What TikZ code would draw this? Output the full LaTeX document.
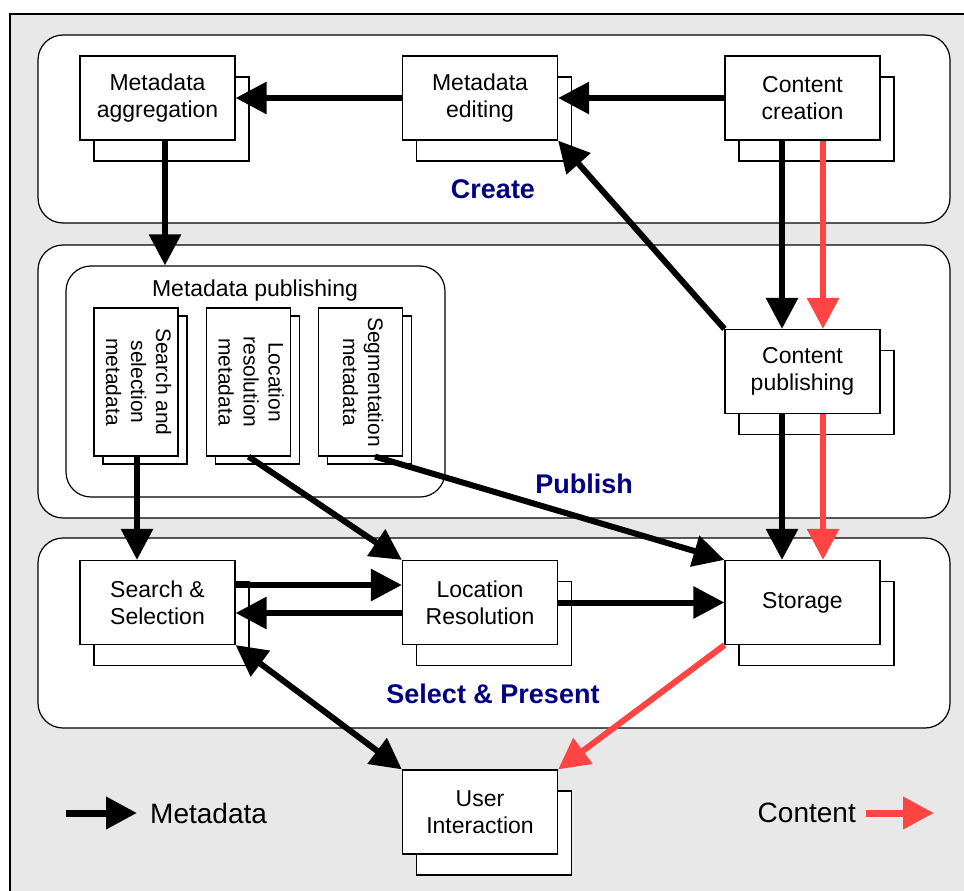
\documentclass[tikz,border=0pt]{standalone}
\usepackage{fontspec}
\setmainfont{Liberation Sans}
\usetikzlibrary{arrows.meta}
\definecolor{bggray}{RGB}{232,232,232}
\definecolor{cred}{RGB}{255,68,68}
\definecolor{navy}{RGB}{0,0,128}
\begin{document}
\begin{tikzpicture}[x=1pt,y=-1pt,
  panel/.style={draw=black, fill=white, line width=1.2pt, rounded corners=25pt},
  mbox/.style={draw=black, fill=white, line width=1.2pt, minimum width=155pt, minimum height=84pt,
    inner sep=0pt, align=center, font=\fontsize{23}{27}\selectfont,
    preaction={draw=black, fill=white, line width=1.2pt, transform canvas={shift={(14pt,-21pt)}}}},
  sbox/.style={draw=black, fill=white, line width=1.2pt, minimum width=84pt, minimum height=148pt,
    inner sep=0pt, font=\fontsize{21}{25}\selectfont,
    preaction={draw=black, fill=white, line width=1.2pt, transform canvas={shift={(9pt,-8pt)}}}},
  meta/.style={line width=6pt, draw=black, -{Triangle[length=31pt,width=31pt]}},
  cont/.style={line width=6pt, draw=cred, color=cred, -{Triangle[length=31pt,width=31pt]}},
  lbl/.style={text=navy, font=\fontsize{27}{32}\selectfont\bfseries},
  legtext/.style={font=\fontsize{28}{32}\selectfont},
]
\useasboundingbox (0,0) rectangle (964,891);
% outer frame
\fill[bggray] (10,14) rectangle (975,900);
\draw[line width=1.2pt] (10,900) -- (10,14) -- (975,14);
% panels
\draw[panel] (38,35) rectangle (950,223);
\draw[panel] (38,245) rectangle (950,518);
\draw[panel] (38,538) rectangle (950,728);
\node[panel, minimum width=379pt, minimum height=231pt, inner sep=0pt] (mp) at (255.5,381.5) {};
\node[font=\fontsize{23}{27}\selectfont] (mpt) at (255,291) {Metadata publishing};
% labels
\node[lbl] (create) at (493,189) {Create};
\node[lbl] (publish) at (584,484) {Publish};
\node[lbl] (select) at (493,694) {Select \& Present};
% boxes
\node[mbox] (ma) at (157.5,98) {Metadata\\aggregation};
\node[mbox] (me) at (480,98) {Metadata\\editing};
\node[mbox] (cc) at (802.5,98) {Content\\creation};
\node[mbox] (cp) at (802.5,371.5) {Content\\publishing};
\node[mbox] (st) at (802.5,602.5) {Storage};
\node[mbox] (ss) at (157.5,602.5) {Search \&\\Selection};
\node[mbox] (lr) at (480,602.5) {Location\\Resolution};
\node[mbox] (ui) at (480,812) {User\\Interaction};
\node[sbox] (sm) at (136,382) {\rotatebox{-90}{\begin{tabular}{@{}c@{}}Search and\\selection\\metadata\end{tabular}}};
\node[sbox] (lm) at (248.5,382) {\rotatebox{-90}{\begin{tabular}{@{}c@{}}Location\\resolution\\metadata\end{tabular}}};
\node[sbox] (sg) at (360.5,382) {\rotatebox{-90}{\begin{tabular}{@{}c@{}}Segmentation\\metadata\end{tabular}}};
% connectors
\draw[meta] (me.west) -- (ma.east);
\draw[meta] (cc.west) -- (me.east);
\draw[meta] ([xshift=7.5pt]ma.south) -- ([xshift=7.5pt]ma.south |- mp.north);
\draw[meta] ([xshift=-20.5pt]cc.south) -- ([xshift=-20.5pt]cp.north);
\draw[cont] ([xshift=20.5pt]cc.south) -- ([xshift=20.5pt]cp.north);
\draw[meta] (cp.north west) -- (me.south east);
\draw[meta] ([xshift=-20.5pt]cp.south) -- ([xshift=-20.5pt]st.north);
\draw[cont] ([xshift=20.5pt]cp.south) -- ([xshift=20.5pt]st.north);
\draw[meta] ([xshift=1pt]sm.south) -- ([xshift=1pt]sm.south |- ss.north);
\draw[meta] (lm.south) -- (lr.north west);
\draw[meta] ([xshift=14.5pt]sg.south) -- (st.north west);
\draw[meta] ([yshift=17.5pt]ss.east) -- ([yshift=17.5pt]lr.west);
\draw[meta] ([yshift=-10.5pt]lr.west) -- ([yshift=-10.5pt]ss.east);
\draw[meta] (lr.east) -- (st.west);
\draw[meta, {Triangle[length=31pt,width=31pt]}-{Triangle[length=31pt,width=31pt]}] (ss.south east) -- (ui.north west);
\draw[cont] (st.south west) -- (ui.north east);
% legend
\coordinate (lma) at (66,813);
\coordinate (lmb) at (137,813);
\coordinate (lca) at (866,813);
\coordinate (lcb) at (934,813);
\draw[meta, line width=7pt] (lma) -- (lmb);
\draw[cont, line width=7pt] (lca) -- (lcb);
\node[legtext, anchor=west, inner sep=0pt] (lmt) at (150,813) {Metadata};
\node[legtext, anchor=east, inner sep=0pt] (lct) at (856,813) {Content};
\end{tikzpicture}
\end{document}
